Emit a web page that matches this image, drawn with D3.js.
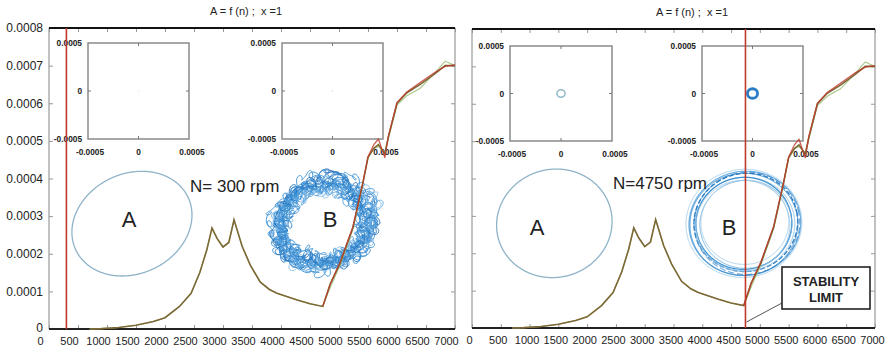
<!DOCTYPE html>
<html><head><meta charset="utf-8">
<script src="https://cdn.jsdelivr.net/npm/d3@7"></script>
<style>
body{margin:0;background:#fff}
svg{display:block}
text{font-family:"Liberation Sans",Arial,sans-serif;fill:#222}
</style>
</head><body><svg id="c" width="893" height="353"></svg>
<script>
// ---------- data ----------
const rpm       = [700, 900, 1200, 1500, 1800, 2000, 2250, 2450, 2600, 2720, 2810, 2900, 3000, 3100, 3190, 3330, 3470, 3640, 3800, 3930, 4280, 4500, 4720, 4850, 5020, 5240, 5410, 5500, 5600, 5680, 5790, 5850, 6000, 6170, 6400, 6650, 6830, 7000];
const amplitude = [0, 0.000001, 0.000004, 0.00001, 0.00002, 0.00003, 0.00006, 0.000095, 0.00015, 0.00021, 0.000268, 0.00024, 0.000218, 0.00023, 0.00029, 0.00022, 0.00017, 0.000125, 0.000105, 0.000095, 0.000077, 0.000067, 0.00006, 0.00012, 0.000175, 0.00027, 0.000387, 0.000456, 0.00048, 0.00049, 0.000465, 0.00051, 0.0006, 0.000628, 0.00065, 0.000678, 0.0007, 0.0007];
const greenAmp  = [0, 0.000001, 0.000004, 0.00001, 0.00002, 0.00003, 0.00006, 0.000095, 0.00015, 0.00021, 0.000268, 0.00024, 0.000218, 0.00023, 0.00029, 0.00022, 0.00017, 0.000125, 0.000105, 0.000095, 0.000077, 0.000067, 0.00006, 0.00011, 0.00017, 0.000265, 0.000385, 0.000455, 0.00048, 0.000485, 0.00047, 0.000505, 0.000595, 0.00062, 0.00064, 0.00068, 0.000712, 0.0007];
const redRpm    = [4720, 4850, 5020, 5240, 5410, 5500, 5600, 5680, 5790, 5850, 6000, 6170, 6400, 6650, 6830, 7000];
const redAmp    = [0.00006, 0.00012, 0.000178, 0.000272, 0.000388, 0.000458, 0.00049, 0.000505, 0.000455, 0.000512, 0.000602, 0.00063, 0.000655, 0.000682, 0.000698, 0.000702];

const xTicks      = [0, 500, 1000, 1500, 2000, 2500, 3000, 3500, 4000, 4500, 5000, 5500, 6000, 6500, 7000];
const xTickLabels = ["0","500","1000","1500","2000","2500","3000","3500","4000","4500","5000","5500","6000","6500","7000"];
const yTicks      = [0, 0.0001, 0.0002, 0.0003, 0.0004, 0.0005, 0.0006, 0.0007, 0.0008];
const yTickLabels = ["0","0.0001","0.0002","0.0003","0.0004","0.0005","0.0006","0.0007","0.0008"];
const insetTicks      = [-0.0005, 0, 0.0005];
const insetTickLabels = ["-0.0005","0","0.0005"];

const speeds      = [300, 4750];             // rpm of the red cursor in each panel
const speedLabels = ["N= 300 rpm", "N=4750 rpm"];
const titleText   = "A = f (n) ;  x =1";
// orbit amplitude shown in the small insets [inset A, inset B] per panel
const insetOrbit  = [[0.000005, 0.000005], [0.00004, 0.00005]];
// orbit centres in (rpm, amplitude) units
const orbitA = [1430, 0.00028];
const orbitB = [4740, 0.00028];

// ---------- layout ----------
const panels = [
  {x0:49, x1:455, y0:28, y1:329, tx:246, ty:15, ldx:-9, yLab:true,
   insets:[[88,189,43,139],[282,383,43,139]],
   A:{a:62,b:50,rot:-25}, labA:[129,227], labB:[330,227], nx:190, ny:192},
  {x0:472, x1:875, y0:29, y1:328, tx:692, ty:16, ldx:-3, yLab:false,
   insets:[[510,612,46,141],[702,803,46,141]],
   A:{a:58,b:54,rot:-15}, labA:[537,235], labB:[729,235], nx:613, ny:189}
];

const svg = d3.select("#c");

function orbitPath(cx, cy, a, b, rotDeg, noise, epi, ph, dx, dy) {
  const rot = rotDeg*Math.PI/180, pts = [];
  const N = 900;
  for (let i = 0; i <= N; i++) {
    const t = i/N*2*Math.PI;
    let n = 0;
    if (noise) noise.forEach(h => { n += h[1]*Math.sin(h[0]*t + ph*h[0]*0.7 + ph); });
    let ex = (a+n)*Math.cos(t), ey = (b+n)*Math.sin(t);
    if (epi) epi.forEach(e => { ex += e[1]*Math.cos(e[0]*t + ph*1.3); ey += e[1]*Math.sin(e[0]*t + ph*1.3); });
    pts.push([cx+dx + ex*Math.cos(rot) - ey*Math.sin(rot), cy+dy + ex*Math.sin(rot) + ey*Math.cos(rot)]);
  }
  return d3.line()(pts);
}

// noisy orbit B at low speed: [a, b, rot, phase, dx, dy, colour]
const leftBLoops = [
  [47,39,-20,0.0,0,0,"#2f86d0"],[41,37,-10,0.8,-2,1,"#5aa3de"],[52,42,-25,1.6,1,-1,"#1f6fb8"],
  [44,34,-15,2.4,2,2,"#88bfe8"],[53,44,-30,3.1,0,-2,"#3a8fd6"],[39,35,-5,3.9,-1,0,"#2f86d0"],
  [49,38,-20,4.6,1,1,"#6aaee2"],[45,43,-35,5.3,-2,-1,"#1f6fb8"],[42,33,-10,6.0,0,2,"#4a9ad8"],
  [50,41,-22,0.5,2,0,"#8cc2ea"],[40,38,-18,1.2,-1,-2,"#2f86d0"],[47,45,-28,2.0,1,1,"#3f93d6"],
  [46,37,-24,2.7,-1,1,"#5aa3de"],[43,40,-12,4.2,1,-1,"#2a7cc4"]
];
const leftBNoise = [[3,2.5],[5,2.5],[7,2],[11,1.5]];
const leftBEpi   = [[38,2.6],[-29,1.8],[53,1.4]];
// clean orbit B at stability limit: [a, b, rot, dx, dy, colour, width, dash]
const rightBLoops = [
  [58,54,-8,-1,0,"#a8d0ec",1,null],[56,52,-10,0,0,"#6fb0e0",1.2,null],[54,51,-5,-1,1,"#3a8fd0",1,null],
  [52,49,-12,1,-1,"#2b7fc6",1.4,"5 2"],[50,47,-8,0,1,"#8fc2e8",1,null],[48,46,-10,-1,0,"#3a8fd0",1.2,null],
  [46,44,-6,1,1,"#6fb0e0",1,null],[44,42,-10,0,-1,"#a8d0ec",1,null],[53,51,-15,2,0,"#2b7fc6",1,"6 3"],
  [47,45,-4,-2,2,"#9ccaeb",1,null]
];

panels.forEach((p, pi) => {
  const x = d3.scaleLinear().domain([0,7000]).range([p.x0,p.x1]);
  const y = d3.scaleLinear().domain([0,0.0008]).range([p.y1,p.y0]);
  const g = svg.append("g");

  // title
  g.append("text").attr("x",p.tx).attr("y",p.ty).attr("text-anchor","middle")
    .attr("font-size",11).style("white-space","pre").text(titleText);

  // axes (ticks inward)
  const xb = g.append("g").attr("transform",`translate(0,${p.y1})`)
    .call(d3.axisBottom(x).tickValues(xTicks).tickSizeInner(-4).tickSizeOuter(0).tickPadding(8)
      .tickFormat((d,i)=>xTickLabels[i]));
  xb.selectAll("text").attr("dx",p.ldx).attr("font-size",11).attr("fill","#222");
  g.append("g").attr("transform",`translate(0,${p.y0})`)
    .call(d3.axisTop(x).tickValues(xTicks).tickSizeInner(-4).tickSizeOuter(0).tickFormat(""));
  const yl = g.append("g").attr("transform",`translate(${p.x0},0)`)
    .call(d3.axisLeft(y).tickValues(yTicks).tickSizeInner(-4).tickSizeOuter(0).tickPadding(6)
      .tickFormat((d,i)=>p.yLab ? yTickLabels[i] : ""));
  yl.selectAll("text").attr("font-size",12).attr("fill","#222");
  yl.selectAll(".tick").filter(d=>d===0).select("text").attr("dy","0.2em");
  g.append("g").attr("transform",`translate(${p.x1},0)`)
    .call(d3.axisRight(y).tickValues(yTicks).tickSizeInner(-4).tickSizeOuter(0).tickFormat(""));
  g.selectAll(".domain").remove();
  g.selectAll(".tick line").attr("stroke","#999");

  // frame
  g.append("line").attr("x1",p.x0).attr("x2",p.x0).attr("y1",p.y0).attr("y2",p.y1).attr("stroke","#999").attr("stroke-width",1.2);
  g.append("line").attr("x1",p.x1).attr("x2",p.x1).attr("y1",p.y0).attr("y2",p.y1).attr("stroke","#999").attr("stroke-width",1.2);
  g.append("line").attr("x1",p.x0).attr("x2",p.x1).attr("y1",p.y0).attr("y2",p.y0).attr("stroke","#111").attr("stroke-width",2);
  g.append("line").attr("x1",p.x0).attr("x2",p.x1).attr("y1",p.y1).attr("y2",p.y1).attr("stroke","#222").attr("stroke-width",1.8);

  // insets
  p.insets.forEach((b, ii) => {
    const xi = d3.scaleLinear().domain([-0.0005,0.0005]).range([b[0],b[1]]);
    const yi = d3.scaleLinear().domain([-0.0005,0.0005]).range([b[3],b[2]]);
    const ig = g.append("g");
    ig.append("rect").attr("x",b[0]).attr("y",b[2]).attr("width",b[1]-b[0]).attr("height",b[3]-b[2])
      .attr("fill","#fff").attr("stroke","#8a8a8a").attr("stroke-width",1.5);
    [[xi(0),b[2],xi(0),b[2]+3],[xi(0),b[3],xi(0),b[3]-3],[b[0],yi(0),b[0]+3,yi(0)],[b[1],yi(0),b[1]-3,yi(0)]]
      .forEach(l => ig.append("line").attr("x1",l[0]).attr("y1",l[1]).attr("x2",l[2]).attr("y2",l[3]).attr("stroke","#777"));
    insetTicks.forEach((v,k) => {
      const t1 = ig.append("text").attr("x",b[0]-6).attr("y",yi(v)+3).attr("text-anchor","end").text(insetTickLabels[k]);
      const t2 = ig.append("text").attr("x",xi(v)+(k===0?2:(k===2?3:0))).attr("y",b[3]+16).attr("text-anchor","middle").text(insetTickLabels[k]);
      [t1,t2].forEach(t => t.attr("font-family","DejaVu Sans Mono").attr("font-weight","bold").attr("font-size",8.3).attr("fill","#444"));
    });
    const r = insetOrbit[pi][ii];
    ig.append("ellipse").attr("cx",xi(0)).attr("cy",yi(0))
      .attr("rx",xi(r)-xi(0)).attr("ry",yi(0)-yi(r))
      .attr("fill","none")
      .attr("stroke", ii===0 ? "#8fb8c6" : "#2a7cc4")
      .attr("stroke-width", pi===0 ? 0.6 : (ii===0 ? 1.5 : 2.8))
      .attr("opacity", pi===0 ? 0.3 : 1);
  });

  // orbit A
  g.append("path").attr("d", orbitPath(x(orbitA[0]), y(orbitA[1]), p.A.a, p.A.b, p.A.rot, null, null, 0, 0, 0))
    .attr("fill","none").attr("stroke","#8fb3c8").attr("stroke-width",1.3);

  // orbit B
  if (pi === 0) {
    leftBLoops.forEach(l => {
      g.append("path").attr("d", orbitPath(x(orbitB[0]), y(orbitB[1]), l[0], l[1], l[2], leftBNoise, leftBEpi, l[3], l[4], l[5]))
        .attr("fill","none").attr("stroke",l[6]).attr("stroke-width",1).attr("opacity",0.9);
    });
  } else {
    rightBLoops.forEach(l => {
      const pth = g.append("path").attr("d", orbitPath(x(orbitB[0]), y(orbitB[1]), l[0], l[1], l[2], null, null, 0, l[3], l[4]))
        .attr("fill","none").attr("stroke",l[5]).attr("stroke-width",l[6]);
      if (l[7]) pth.attr("stroke-dasharray", l[7]);
    });
  }

  // curves
  const line = d3.line().x(d=>x(d[0])).y(d=>y(d[1]));
  g.append("path").attr("d", line(rpm.map((r,i)=>[r,greenAmp[i]])))
    .attr("fill","none").attr("stroke","#a9c98a").attr("stroke-width",1.1);
  g.append("path").attr("d", line(rpm.map((r,i)=>[r,amplitude[i]])))
    .attr("fill","none").attr("stroke","#7d6836").attr("stroke-width",1.6);
  g.append("path").attr("d", line(redRpm.map((r,i)=>[r,redAmp[i]])))
    .attr("fill","none").attr("stroke","#c0392b").attr("stroke-width",1.2).attr("opacity",0.85);

  // red speed cursor
  g.append("line").attr("x1",x(speeds[pi])).attr("x2",x(speeds[pi])).attr("y1",p.y0).attr("y2",p.y1)
    .attr("stroke","#c0392b").attr("stroke-width",1.6);

  // labels
  g.append("text").attr("x",p.labA[0]).attr("y",p.labA[1]).attr("text-anchor","middle").attr("font-size",22).text("A");
  g.append("text").attr("x",p.labB[0]).attr("y",p.labB[1]).attr("text-anchor","middle").attr("font-size",22).text("B");
  g.append("text").attr("x",p.nx).attr("y",p.ny).attr("font-size",17).text(speedLabels[pi]);

  if (pi === 1) {
    const xs = x(speeds[pi]);
    g.append("line").attr("x1",782).attr("y1",303).attr("x2",xs+1).attr("y2",y(0)-6)
      .attr("stroke","#555").attr("stroke-width",1);
    g.append("rect").attr("x",782).attr("y",267).attr("width",88).attr("height",42)
      .attr("fill","#fff").attr("stroke","#222").attr("stroke-width",1.6);
    g.append("text").attr("x",826).attr("y",286).attr("text-anchor","middle").attr("font-size",13).attr("font-weight","bold").text("STABILITY");
    g.append("text").attr("x",826).attr("y",302).attr("text-anchor","middle").attr("font-size",13).attr("font-weight","bold").text("LIMIT");
  }
});
</script>
</body></html>
